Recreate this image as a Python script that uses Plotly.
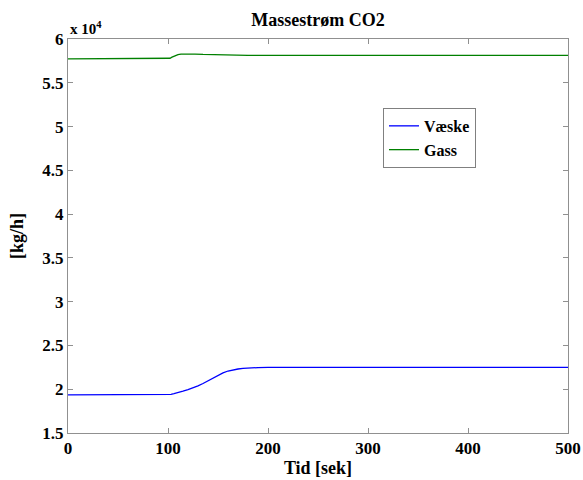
import plotly.graph_objects as go

# Data
t_blue = [0, 100, 103, 106, 110, 115, 120, 125, 130, 135, 140, 145, 150, 155, 160,
          165, 170, 175, 180, 190, 200, 220, 250, 300, 400, 500]
vaeske = [19360, 19360, 19420, 19500, 19600, 19770, 19950, 20150, 20380, 20650, 20950,
          21280, 21600, 21870, 22080, 22220, 22310, 22370, 22420, 22470, 22490, 22500,
          22500, 22500, 22500, 22500]
t_green = [0, 100, 102, 104, 106, 108, 110, 113, 116, 120, 127, 135, 145, 155, 165,
           180, 220, 300, 400, 500]
gass = [57720, 57720, 57800, 57920, 58050, 58150, 58220, 58270, 58290, 58300, 58280,
        58240, 58200, 58170, 58150, 58140, 58140, 58140, 58140, 58140]

x_ticks = [0, 100, 200, 300, 400, 500]
y_ticks = [15000, 20000, 25000, 30000, 35000, 40000, 45000, 50000, 55000, 60000]
y_ticktext = ["1.5", "2", "2.5", "3", "3.5", "4", "4.5", "5", "5.5", "6"]

FONT = "Liberation Serif"

fig = go.Figure()
fig.add_trace(go.Scatter(x=t_blue, y=vaeske, mode="lines", name="Væske",
                         line=dict(color="#0000ff", width=1.3)))
fig.add_trace(go.Scatter(x=t_green, y=gass, mode="lines", name="Gass",
                         line=dict(color="#008000", width=1.3)))

axis_common = dict(
    showgrid=False, zeroline=False, showline=True, linecolor="#909090", linewidth=1,
    mirror="ticks", ticks="inside", ticklen=5, tickcolor="#909090", automargin=False,
    tickfont=dict(family=FONT, size=17, color="black", weight="bold"),
)

fig.update_layout(
    template="none",
    width=583, height=480,
    margin=dict(l=68, r=15, t=39, b=47, pad=0),
    paper_bgcolor="white", plot_bgcolor="white",
    title=dict(text="Massestrøm CO2", x=318/583, xanchor="center", y=1 - 20/480, yanchor="middle",
               font=dict(family=FONT, size=18, color="black", weight="bold")),
    xaxis=dict(range=[0, 500], tickvals=x_ticks,
               title=dict(text="Tid [sek]", standoff=3,
                          font=dict(family=FONT, size=18, color="black", weight="bold")),
               **axis_common),
    yaxis=dict(range=[15000, 60000], tickvals=y_ticks, ticktext=y_ticktext,
               title=dict(text="[kg/h]", standoff=14,
                          font=dict(family=FONT, size=18, color="black", weight="bold")),
               **axis_common),
    legend=dict(x=0.63, y=0.825, xanchor="left", yanchor="top",
                bgcolor="white", bordercolor="#808080", borderwidth=1,
                font=dict(family=FONT, size=16, color="black", weight="bold"),
                tracegroupgap=0, itemwidth=30),
    showlegend=True,
    annotations=[dict(text="x 10<sup>4</sup>", xref="paper", yref="paper", x=0, y=1,
                      xanchor="left", yanchor="bottom", showarrow=False, yshift=0,
                      font=dict(family=FONT, size=15, color="black", weight="bold"))],
)

fig.write_html("out.html", config={"displayModeBar": False},
               post_script="document.body.style.margin='0';document.body.style.padding='0';")
